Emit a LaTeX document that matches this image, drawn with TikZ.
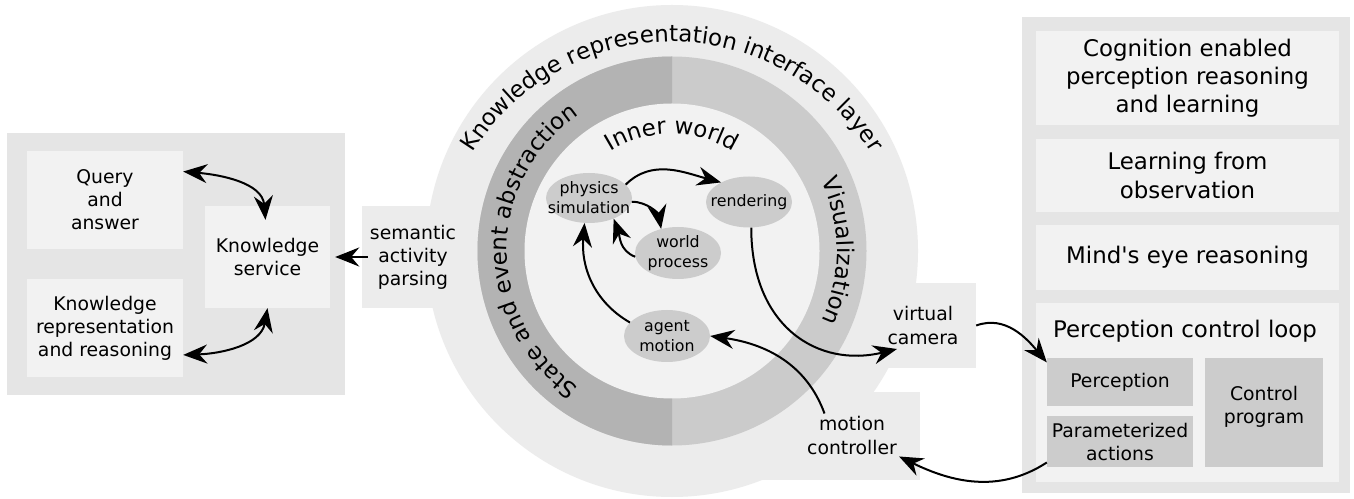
\documentclass[tikz,border=0pt]{standalone}
\usepackage{fontspec}
\setmainfont{DejaVu Sans}
\usetikzlibrary{shapes.geometric,arrows.meta,decorations.text}
\definecolor{panelbg}{HTML}{E5E5E5}
\definecolor{boxfill}{HTML}{F2F2F2}
\definecolor{outerc}{HTML}{ECECEC}
\definecolor{ringdark}{HTML}{B3B3B3}
\definecolor{ringlight}{HTML}{CBCBCB}
\definecolor{ellfill}{HTML}{CCCCCC}
\newcommand{\fntL}{\fontsize{22.9}{28.3}\selectfont}
\newcommand{\fntM}{\fontsize{18.8}{23}\selectfont}
\newcommand{\fntMM}{\fontsize{18.8}{24}\selectfont}
\newcommand{\fntS}{\fontsize{15.8}{20}\selectfont}
\begin{document}
\begin{tikzpicture}[x=1pt,y=1pt,
  lbox/.style={fill=boxfill, inner sep=0pt, align=center, font=\fntM},
  rbox/.style={fill=boxfill, inner sep=0pt, align=center, font=\fntL, minimum width=303pt},
  sbox/.style={fill=ellfill, inner sep=0pt, align=center, font=\fntM},
  gtext/.style={inner sep=0pt, align=center, font=\fntMM},
  ell/.style={ellipse, fill=ellfill, inner sep=0pt, minimum width=86pt},
  elltext/.style={font=\fntS, align=center},
  arr/.style={line width=2pt, -{Stealth[length=24pt,width=19pt,inset=8pt]}},
  darr/.style={line width=2pt, {Stealth[length=24pt,width=19pt,inset=8pt]}-{Stealth[length=24pt,width=19pt,inset=8pt]}},
  ringtext/.style={decorate, decoration={text along path, text align=center, text={#1}}}
]
\useasboundingbox (0,0) rectangle (1354,498);
\fill[white] (0,0) rectangle (1354,498);
% panels
\fill[panelbg] (7,103) rectangle (345,365);
\fill[panelbg] (1022,5) rectangle (1350,481);
\fill[boxfill] (1036,16) rectangle (1339,195);
% interface boxes (under the circle)
\fill[outerc] (362,190) rectangle (464,292);
\fill[outerc] (870,130) rectangle (976,215);
\fill[outerc] (760,18) rectangle (920,106);
% circle
\fill[outerc] (672,247) circle[radius=246];
\fill[ringlight] (672,247) circle[radius=194.5];
\fill[ringdark] (672,441.5) arc[start angle=90, end angle=270, radius=194.5] -- cycle;
\fill[boxfill] (672,247) circle[radius=147.5];
% ring texts
\path[ringtext={|\fntL|Knowledge representation interface layer}] ([shift={(160:234)}]672,222) arc[start angle=160, end angle=20, radius=234];
\path[ringtext={|\fntL|State and event abstraction}] ([shift={(250:165)}]672,247) arc[start angle=250, end angle=110, radius=165];
\path[ringtext={|\fntL|Visualization}] ([shift={(45:165)}]672,247) arc[start angle=45, end angle=-45, radius=165];
\path[ringtext={|\fntL|Inner world}] ([shift={(140:117)}]672,247) arc[start angle=140, end angle=40, radius=117];
% interface texts
\node[gtext, font=\fntM, minimum width=102pt, minimum height=102pt] (sem) at (413,241) {semantic\\activity\\parsing};
\node[gtext, minimum width=106pt, minimum height=85pt] (vc) at (923,172.5) {virtual\\camera};
\node[gtext, inner sep=2pt] (mc) at (852,63) {motion\\controller};
% left panel
\node[lbox, minimum width=156pt, minimum height=98pt] (qa) at (105,298) {Query\\and\\answer};
\node[lbox, minimum width=156pt, minimum height=98pt] (krr) at (105,170) {Knowledge\\representation\\and reasoning};
\node[lbox, minimum width=125pt, minimum height=102pt] (ks) at (267.5,241) {Knowledge\\service};
% right panel
\node[rbox, minimum height=94pt] (cog) at (1187.5,420) {Cognition enabled\\perception reasoning\\and learning};
\node[rbox, minimum height=73pt] (lfo) at (1187.5,322.5) {Learning from\\observation};
\node[rbox, minimum height=65pt] (mer) at (1187.5,240.5) {Mind\textquotesingle s eye reasoning};
\node[font=\fntL, inner sep=0pt] (pcl) at (1185,167) {Perception control loop};
\node[sbox, minimum width=146pt, minimum height=48pt] (perc) at (1120,116) {Perception};
\node[sbox, minimum width=146pt, minimum height=51pt] (param) at (1120,56.5) {Parameterized\\actions};
\node[sbox, minimum width=118pt, minimum height=109pt] (ctrl) at (1264,85.5) {};
\node[font=\fntM, align=center, inner sep=0pt] (ctrltxt) at (1264,91.5) {Control\\program};
% inner world ellipses
\node[ell, minimum height=50pt, label={[elltext]center:physics\\simulation}] (phys) at (589,300) {};
\node[ell, minimum height=51pt, label={[elltext]center:rendering}] (rend) at (749,296) {};
\node[ell, minimum height=52pt, label={[elltext]center:world\\process}] (world) at (678,245) {};
\node[ell, minimum height=52pt, label={[elltext]center:agent\\motion}] (agent) at (667,162) {};
% connectors
\draw[arr] (phys.20) to[out=45,in=165] (rend.145);
\draw[arr] (phys.-5) to[out=0,in=100] (world.125);
\draw[arr] (world.185) to[out=160,in=-70] (phys.-40);
\draw[arr] (agent.160) to[out=150,in=-95] (phys.-100);
\draw[arr] (rend.-85) .. controls +(0,-100) and +(-78,-19) .. ([shift={(-26,-23.5)}]vc.center);
\draw[arr] (mc.142) to[out=110,in=-8] (agent.east);
\draw[arr] (vc.east) to[out=20,in=130] (perc.165);
\draw[arr] (param.196) to[out=-147,in=-26] (mc.south east);
\draw[arr, shorten <=-6pt, shorten >=5pt] (sem.west) -- (ks.east);
\draw[darr] (qa.20) to[out=-5,in=95] ([shift={(-2,-14)}]ks.north);
\draw[darr] (krr.-19) to[out=2,in=-100] (ks.south);
\end{tikzpicture}
\end{document}
